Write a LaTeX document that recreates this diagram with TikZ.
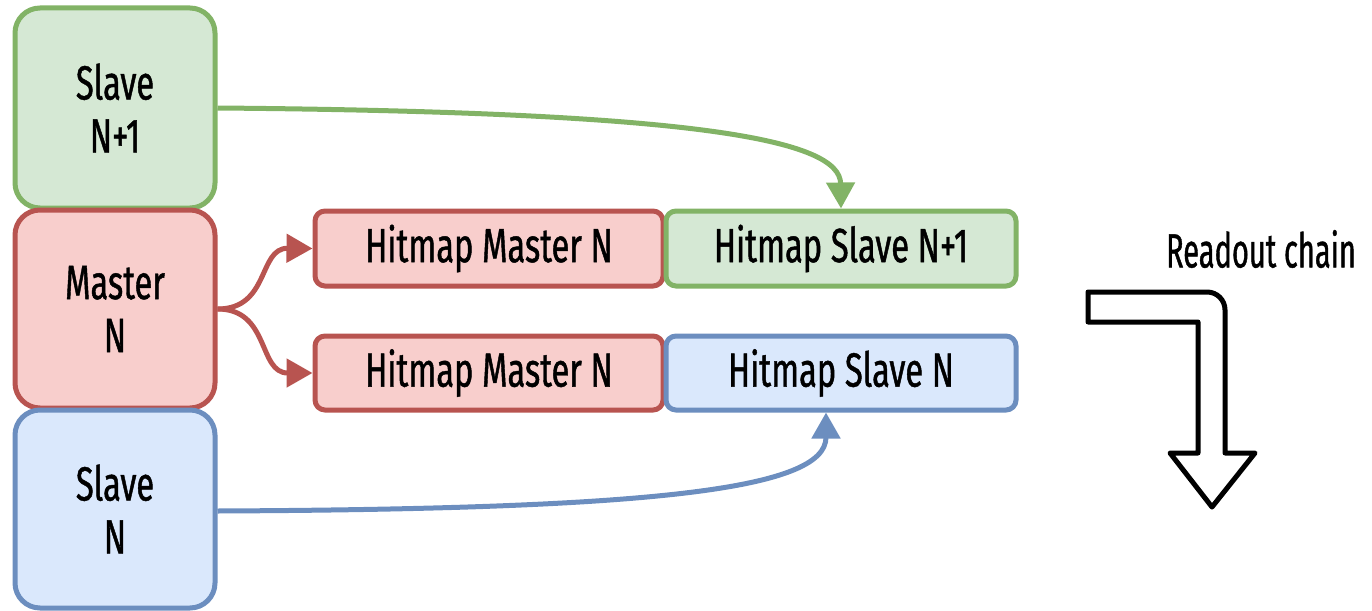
\documentclass[tikz,border=0pt]{standalone}
\usepackage{fontspec}
\setmainfont[FakeStretch=0.68,FakeBold=0.9]{Fira Sans}
\usetikzlibrary{arrows.meta}
\definecolor{gfill}{HTML}{D5E8D4}\definecolor{gline}{HTML}{82B366}
\definecolor{rfill}{HTML}{F8CECC}\definecolor{rline}{HTML}{B85450}
\definecolor{bfill}{HTML}{DAE8FC}\definecolor{bline}{HTML}{6C8EBF}
\tikzset{
  txt/.style={font=\fontsize{48}{53}\selectfont, align=center, text=black},
  bigbox/.style={txt, draw, line width=5pt, rounded corners=25pt, minimum width=200pt, inner sep=0pt},
  mapbox/.style={txt, draw, line width=5pt, rounded corners=10pt, minimum height=75pt, inner sep=0pt},
  link/.style={line width=5pt, -{Triangle[length=26pt,width=28pt]}},
}
\begin{document}
\begin{tikzpicture}[x=1pt,y=-1pt]
\useasboundingbox (0,0) rectangle (1372,610);
% left column: slave / master / slave
\node[bigbox, fill=gfill, draw=gline, minimum height=200pt] (s1) at (115,108) {Slave\\N+1};
\node[bigbox, fill=rfill, draw=rline, minimum height=198pt] (m) at (115,309) {Master\\N};
\node[bigbox, fill=bfill, draw=bline, minimum height=198pt] (s0) at (115,509) {Slave\\N};
% hitmap records
\node[mapbox, fill=rfill, draw=rline, minimum width=348pt] (hm1) at (489,248.5) {Hitmap Master N};
\node[mapbox, fill=gfill, draw=gline, minimum width=350pt] (hs1) at (841,248.5) {Hitmap Slave N+1};
\node[mapbox, fill=rfill, draw=rline, minimum width=348pt, minimum height=74pt] (hm0) at (489,373) {Hitmap Master N};
\node[mapbox, fill=bfill, draw=bline, minimum width=350pt, minimum height=74pt] (hs0) at (841,373) {Hitmap Slave N};
% connectors
\draw[link, draw=gline] (s1.east) .. controls (700,112) and (840,140) .. (hs1.north);
\draw[link, draw=bline] ([yshift=-2pt]s0.east) .. controls (650,509) and (826,490) .. ([xshift=-15pt]hs0.south);
\draw[link, draw=rline] (m.east) .. controls (270,309) and (258,248) .. (hm1.west);
\draw[link, draw=rline] (m.east) .. controls (270,309) and (258,373) .. (hm0.west);
% readout direction
\node[txt, inner sep=0pt] (ro) at (1261,249) {\scalebox{0.89}[1]{Readout chain}};
\draw[line width=5pt, line join=round, fill=white]
  (1088,292) -- (1207,292) .. controls (1217,292) and (1225,300) .. (1225,310)
  -- (1225,453) -- (1255,453) -- (1212,507) -- (1170,453) -- (1198,453)
  -- (1198,322) -- (1088,322) -- cycle;
\end{tikzpicture}
\end{document}
